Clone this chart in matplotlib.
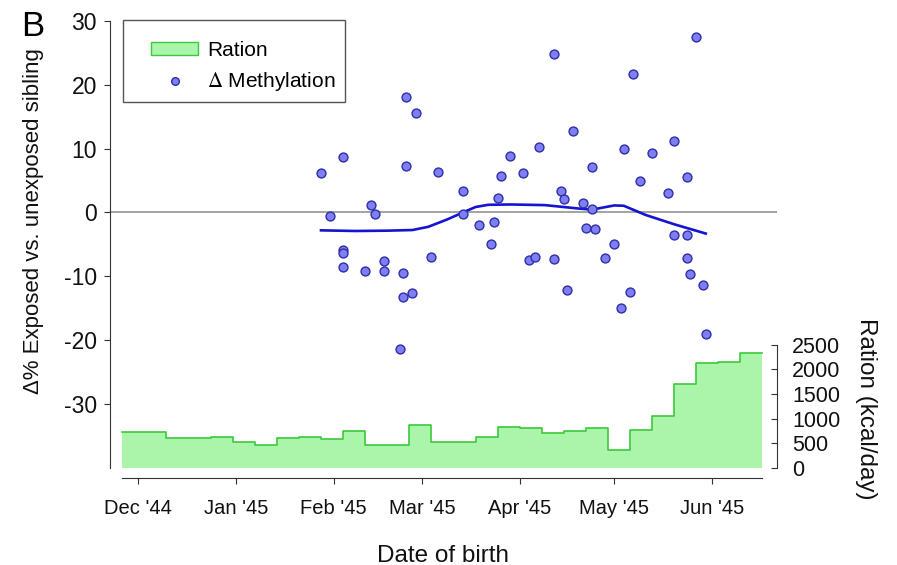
import numpy as np
import matplotlib
matplotlib.use("Agg")
import matplotlib.pyplot as plt
import matplotlib.dates as mdates
from matplotlib.patches import Patch, Rectangle
from matplotlib.lines import Line2D

plt.rcParams['font.family'] = ['Liberation Sans', 'DejaVu Sans']
plt.rcParams['mathtext.fontset'] = 'stix'
plt.rcParams['axes.unicode_minus'] = False

# weekly ration periods (week start dates, plus end of last week)
ration_weeks = ['1944-11-26', '1944-12-03', '1944-12-10', '1944-12-17', '1944-12-24',
                '1944-12-31', '1945-01-07', '1945-01-14', '1945-01-21', '1945-01-28',
                '1945-02-04', '1945-02-11', '1945-02-18', '1945-02-25', '1945-03-04',
                '1945-03-11', '1945-03-18', '1945-03-25', '1945-04-01', '1945-04-08',
                '1945-04-15', '1945-04-22', '1945-04-29', '1945-05-06', '1945-05-13',
                '1945-05-20', '1945-05-27', '1945-06-03', '1945-06-10', '1945-06-17']
ration_kcal = [725, 725, 616, 616, 636, 535, 467, 616, 636, 590,
               752, 467, 467, 868, 535, 535, 636, 840, 815, 705,
               752, 806, 366, 772, 1057, 1700, 2127, 2148, 2331]

# delta methylation per sibling pair
birth_dates = ['1945-01-28', '1945-01-31', '1945-02-04', '1945-02-04', '1945-02-04',
               '1945-02-04', '1945-02-11', '1945-02-13', '1945-02-14', '1945-02-17',
               '1945-02-17', '1945-02-22', '1945-02-23', '1945-02-23', '1945-02-24',
               '1945-02-24', '1945-02-26', '1945-02-27', '1945-03-04', '1945-03-06',
               '1945-03-14', '1945-03-14', '1945-03-19', '1945-03-23', '1945-03-24',
               '1945-03-25', '1945-03-26', '1945-03-29', '1945-04-02', '1945-04-04',
               '1945-04-06', '1945-04-07', '1945-04-12', '1945-04-12', '1945-04-14',
               '1945-04-15', '1945-04-16', '1945-04-18', '1945-04-21', '1945-04-22',
               '1945-04-24', '1945-04-24', '1945-04-25', '1945-04-28', '1945-05-01',
               '1945-05-03', '1945-05-04', '1945-05-06', '1945-05-07', '1945-05-09',
               '1945-05-13', '1945-05-18', '1945-05-20', '1945-05-20', '1945-05-24',
               '1945-05-24', '1945-05-24', '1945-05-25', '1945-05-27', '1945-05-29',
               '1945-05-30']
delta_meth = [6.2, -0.5, 8.7, -5.8, -6.3, -8.5, -9.1, 1.2, -0.3, -7.6,
              -9.2, -21.3, -9.5, -13.3, 18.0, 7.2, -12.6, 15.6, -7.0, 6.4,
              3.3, -0.2, -1.9, -4.9, -1.5, 2.2, 5.7, 8.8, 6.1, -7.5,
              -6.9, 10.3, 24.8, -7.3, 3.4, 2.1, -12.2, 12.8, 1.5, -2.4,
              7.1, 0.5, -2.6, -7.1, -4.9, -15.0, 9.9, -12.5, 21.7, 5.0,
              9.3, 3.0, 11.2, -3.5, 5.6, -3.5, -7.2, -9.6, 27.4, -11.4,
              -19.0]

# smoothed trend
smooth_dates = ['1945-01-28', '1945-02-08', '1945-02-18', '1945-02-26', '1945-03-03',
                '1945-03-09', '1945-03-14', '1945-03-18', '1945-03-22', '1945-03-29',
                '1945-04-09', '1945-04-20', '1945-04-24', '1945-05-01', '1945-05-04',
                '1945-05-11', '1945-05-20', '1945-05-30']
smooth_vals = [-2.8, -2.9, -2.85, -2.75, -2.25, -1.1, 0.0, 0.85, 1.2, 1.25,
               1.15, 0.6, 0.45, 1.1, 1.05, -0.4, -1.85, -3.3]

fill_face = '#abf5ab'
fill_edge = '#3cc83c'
pt_face = '#7f7ff2'
pt_edge = '#2e2eaa'
axis_col = '#333333'

wk = np.array(ration_weeks, dtype='datetime64[D]')
kc = np.append(ration_kcal, ration_kcal[-1])
bd = np.array(birth_dates, dtype='datetime64[D]')
sd = np.array(smooth_dates, dtype='datetime64[D]')

fig = plt.figure(figsize=(8.97, 5.65), dpi=100)
ax = fig.add_axes([110 / 897, 1 - 468 / 565, 667 / 897, 447.2 / 565])
ax2 = ax.twinx()
ax.set_zorder(ax2.get_zorder() + 1)
ax.patch.set_visible(False)

# ration
ax2.fill_between(wk, kc, 0, step='post', color=fill_face, lw=0)
ax2.step(wk, kc, where='post', color=fill_edge, lw=1.2)
ax2.set_ylim(0, 9080)
ax2.set_yticks([0, 500, 1000, 1500, 2000, 2500])
for s in ['top', 'left', 'bottom']:
    ax2.spines[s].set_visible(False)
ax2.spines['right'].set_bounds(0, 2500)
ax2.spines['right'].set_color(axis_col)
ax2.tick_params(axis='y', direction='in', length=4, pad=11, labelsize=15.5,
                colors=axis_col, labelcolor='#111111')

# methylation
ax.axhline(0, color='#8a8a8a', lw=1.1, zorder=1)
ax.plot(sd, smooth_vals, color='#1414d2', lw=1.9, zorder=2)
ax.plot(bd, delta_meth, 'o', ms=6.4, mfc=pt_face, mec=pt_edge, mew=1.0, zorder=3)

x0 = mdates.date2num(np.datetime64('1944-12-01'))
ax.set_xlim(x0 - 8.9, x0 + 202.6)
ax.set_ylim(-40, 30)
ax.set_yticks([-30, -20, -10, 0, 10, 20, 30])
ax.xaxis.set_major_locator(mdates.MonthLocator())
ax.xaxis.set_major_formatter(mdates.DateFormatter("%b '%y"))

ax.spines['top'].set_visible(False)
ax.spines['right'].set_visible(False)
ax.spines['left'].set_color(axis_col)
ax.spines['bottom'].set_color(axis_col)
ax.spines['bottom'].set_position(('outward', 7))
ax.spines['bottom'].set_bounds(mdates.date2num(wk[0]), mdates.date2num(wk[-1]))
ax.tick_params(axis='y', direction='out', length=4.5, pad=5, labelsize=16.5,
               colors=axis_col, labelcolor='#111111')
ax.tick_params(axis='x', direction='out', length=4, pad=11, labelsize=14.5,
               colors=axis_col, labelcolor='#111111')

# legend: frame box plus frameless legend entries
ax.add_patch(Rectangle((0.019, 0.8191), 0.3333, 0.1827, transform=ax.transAxes,
                       facecolor='white', edgecolor='#555555', lw=1.0,
                       clip_on=False, zorder=4))
handles = [Patch(facecolor=fill_face, edgecolor=fill_edge, label='Ration'),
           Line2D([], [], marker='o', ls='', ms=5.5, mfc=pt_face, mec=pt_edge,
                  label=r'$\Delta$ Methylation')]
leg = ax.legend(handles=handles, loc='upper left', bbox_to_anchor=(151 / 897, 1 - 41 / 565),
                bbox_transform=fig.transFigure, frameon=False, borderaxespad=0,
                borderpad=0, fontsize=15, handlelength=2.26, handleheight=0.58,
                handletextpad=0.43, labelspacing=0.5)
leg.set_zorder(5)

fig.text(33 / 897, 1 - 221 / 565, 'Δ% Exposed vs. unexposed sibling', rotation=90,
         ha='center', va='center', fontsize=16, color='#111111')
fig.text(866 / 897, 1 - 409 / 565, 'Ration (kcal/day)', rotation=270,
         ha='center', va='center', fontsize=17.5, color='#111111')
fig.text(443 / 897, 3.5 / 565, 'Date of birth', ha='center', va='baseline',
         fontsize=17.5, color='#111111')
fig.text(32.5 / 897, 1 - 27 / 565, 'B', ha='center', va='center', fontsize=25)

fig.savefig('out.png', dpi=100)
